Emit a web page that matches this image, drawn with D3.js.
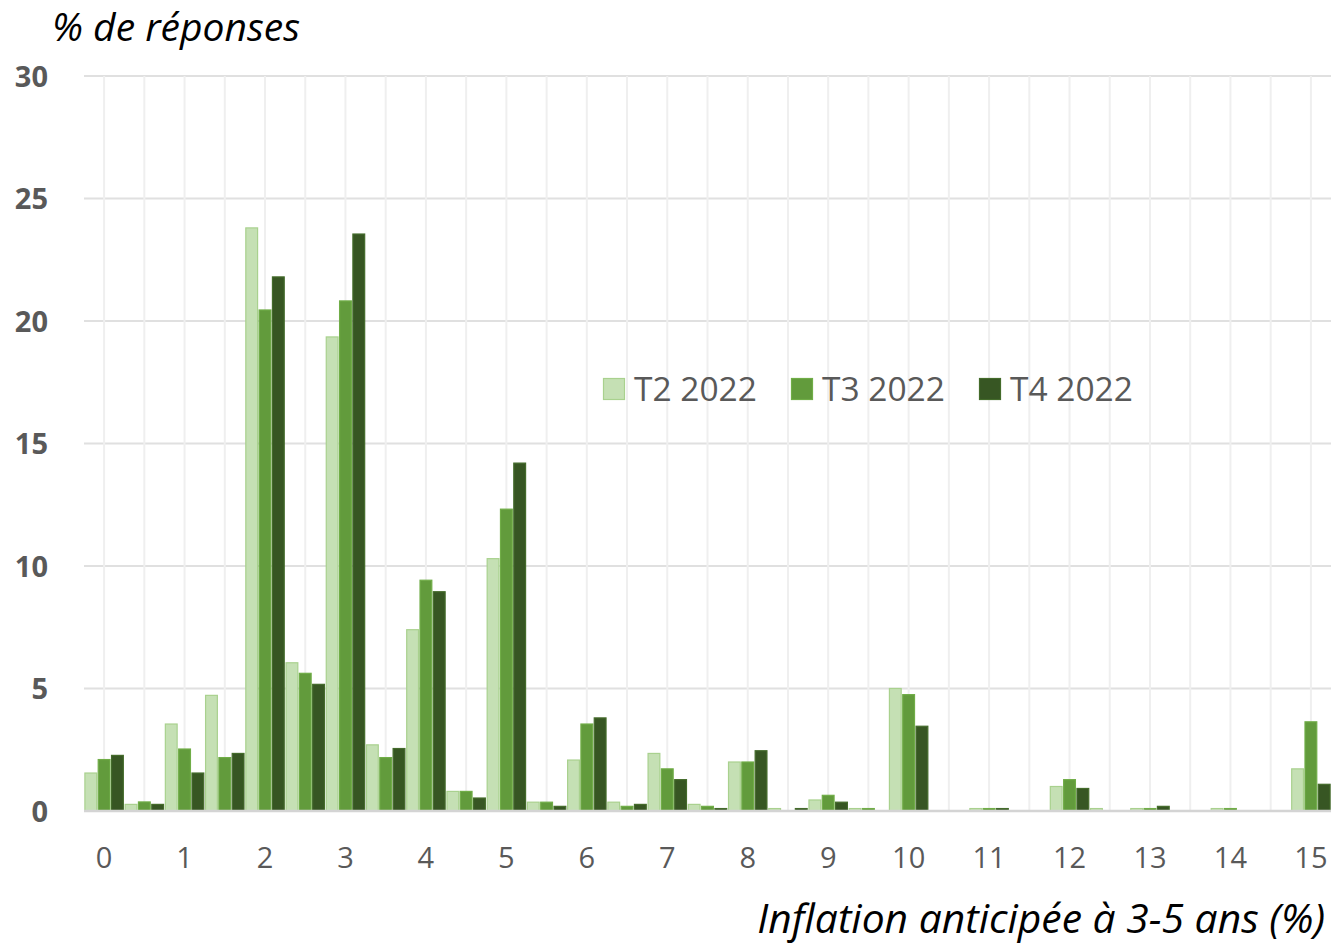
<!DOCTYPE html>
<html><head><meta charset="utf-8">
<script src="https://cdn.jsdelivr.net/npm/d3@7"></script>
<style>body{margin:0;background:#fff}svg{display:block}</style>
</head><body>
<svg id="c" width="1344" height="944"></svg>
<script>
const categories = ["0","0.5","1","1.5","2","2.5","3","3.5","4","4.5","5","5.5","6","6.5","7","7.5","8","8.5","9","9.5","10","10.5","11","11.5","12","12.5","13","13.5","14","14.5","15"];
const seriesNames = ["T2 2022","T3 2022","T4 2022"];
const t2 = [1.55,0.27,3.55,4.72,23.8,6.05,19.35,2.7,7.4,0.8,10.3,0.36,2.08,0.36,2.35,0.27,2.0,0.1,0.45,0.1,5.0,0,0.1,0,1.0,0.1,0.1,0,0.1,0,1.72];
const t3 = [2.1,0.37,2.53,2.18,20.45,5.62,20.82,2.18,9.42,0.8,12.32,0.36,3.55,0.19,1.72,0.19,2.0,0,0.64,0.1,4.75,0,0.1,0,1.28,0,0.1,0,0.1,0,3.64];
const t4 = [2.27,0.27,1.55,2.35,21.8,5.17,23.55,2.55,8.95,0.53,14.2,0.19,3.8,0.27,1.28,0.1,2.46,0.1,0.36,0,3.46,0,0.1,0,0.92,0,0.19,0,0,0,1.09];
const yTicks = [0,5,10,15,20,25,30];
const xTickLabels = ["0","1","2","3","4","5","6","7","8","9","10","11","12","13","14","15"];
const yTitle = "% de réponses";
const xTitle = "Inflation anticipée à 3-5 ans (%)";

const fills = ["#c5e0b4","#629b3c","#375623"];
const strokes = ["#a9d18e","#70ad47","#446b2b"];
const series = [t2,t3,t4];

const svg = d3.select("#c");
const L=84, R=1331, T=76, B=811;
const x = d3.scaleBand().domain(categories).range([L,R]).paddingInner(0.02).paddingOuter(0.01);
const x1 = d3.scaleBand().domain(seriesNames).range([0,x.bandwidth()]).paddingInner(0.04);
const y = d3.scaleLinear().domain([0,30]).range([B,T]);
const font = "'Open Sans', sans-serif";

function fit(sel, w){
  const len = sel.node().getComputedTextLength();
  const fs = parseFloat(sel.attr("font-size"));
  sel.attr("font-size", fs*w/len);
}

// horizontal gridlines
svg.append("g").selectAll("line").data(yTicks.filter(d=>d>0)).join("line")
  .attr("x1",L).attr("x2",R).attr("y1",d=>y(d)).attr("y2",d=>y(d))
  .attr("stroke","#e0e0e0").attr("stroke-width",2);
// vertical gridlines
svg.append("g").selectAll("line").data(categories).join("line")
  .attr("x1",d=>x(d)+x.bandwidth()/2).attr("x2",d=>x(d)+x.bandwidth()/2)
  .attr("y1",T).attr("y2",B).attr("stroke","#efefef").attr("stroke-width",2);

// bars
series.forEach((s,i)=>{
  svg.append("g").selectAll("rect").data(categories.map((c,j)=>({c,v:s[j]}))).join("rect")
    .filter(d=>d.v>0)
    .attr("x",d=>x(d.c)+x1(seriesNames[i])+0.5)
    .attr("width",x1.bandwidth()-1)
    .attr("y",d=>y(d.v))
    .attr("height",d=>B-y(d.v))
    .attr("fill",fills[i]).attr("stroke",strokes[i]).attr("stroke-width",1.2);
});

// baseline
svg.append("line").attr("x1",L).attr("x2",R).attr("y1",B).attr("y2",B)
  .attr("stroke","#d4d4d4").attr("stroke-width",2.5);

// y axis labels
const yAxis = d3.axisLeft(y).tickValues(yTicks).tickSize(0).tickPadding(0);
const ya = svg.append("g").attr("transform","translate(48,0)").call(yAxis);
ya.select(".domain").remove();
ya.selectAll("text").attr("font-family",font).attr("font-size",29).attr("font-weight","bold").attr("fill","#595959").attr("dy","0.36em");

// x axis labels
const xAxis = d3.axisBottom(x).tickValues(xTickLabels).tickSize(0).tickPadding(0);
const xa = svg.append("g").attr("transform","translate(0,"+(B+47)+")").call(xAxis);
xa.select(".domain").remove();
xa.selectAll("text").attr("font-family",font).attr("font-size",29).attr("fill","#595959").attr("dy","0.36em");

// titles
const t1 = svg.append("text").attr("x",52).attr("y",41).attr("font-family",font).attr("font-style","italic")
  .attr("font-size",30).attr("fill","#000").text(yTitle);
fit(t1,248);
const t2t = svg.append("text").attr("x",1325).attr("y",933).attr("text-anchor","end").attr("font-family",font).attr("font-style","italic")
  .attr("font-size",30).attr("fill","#000").text(xTitle);
fit(t2t,568);

// legend
const legX = [603,791,979];
seriesNames.forEach((n,i)=>{
  const g = svg.append("g").attr("transform",`translate(${legX[i]},378)`);
  g.append("rect").attr("x",0.5).attr("y",0.5).attr("width",21).attr("height",21)
    .attr("fill",fills[i]).attr("stroke",strokes[i]).attr("stroke-width",1.2);
  const tx = g.append("text").attr("x",31).attr("y",11).attr("dy","0.36em").attr("font-family",font)
    .attr("font-size",28).attr("fill","#595959").text(n);
  fit(tx,123);
});
</script>
</body></html>
